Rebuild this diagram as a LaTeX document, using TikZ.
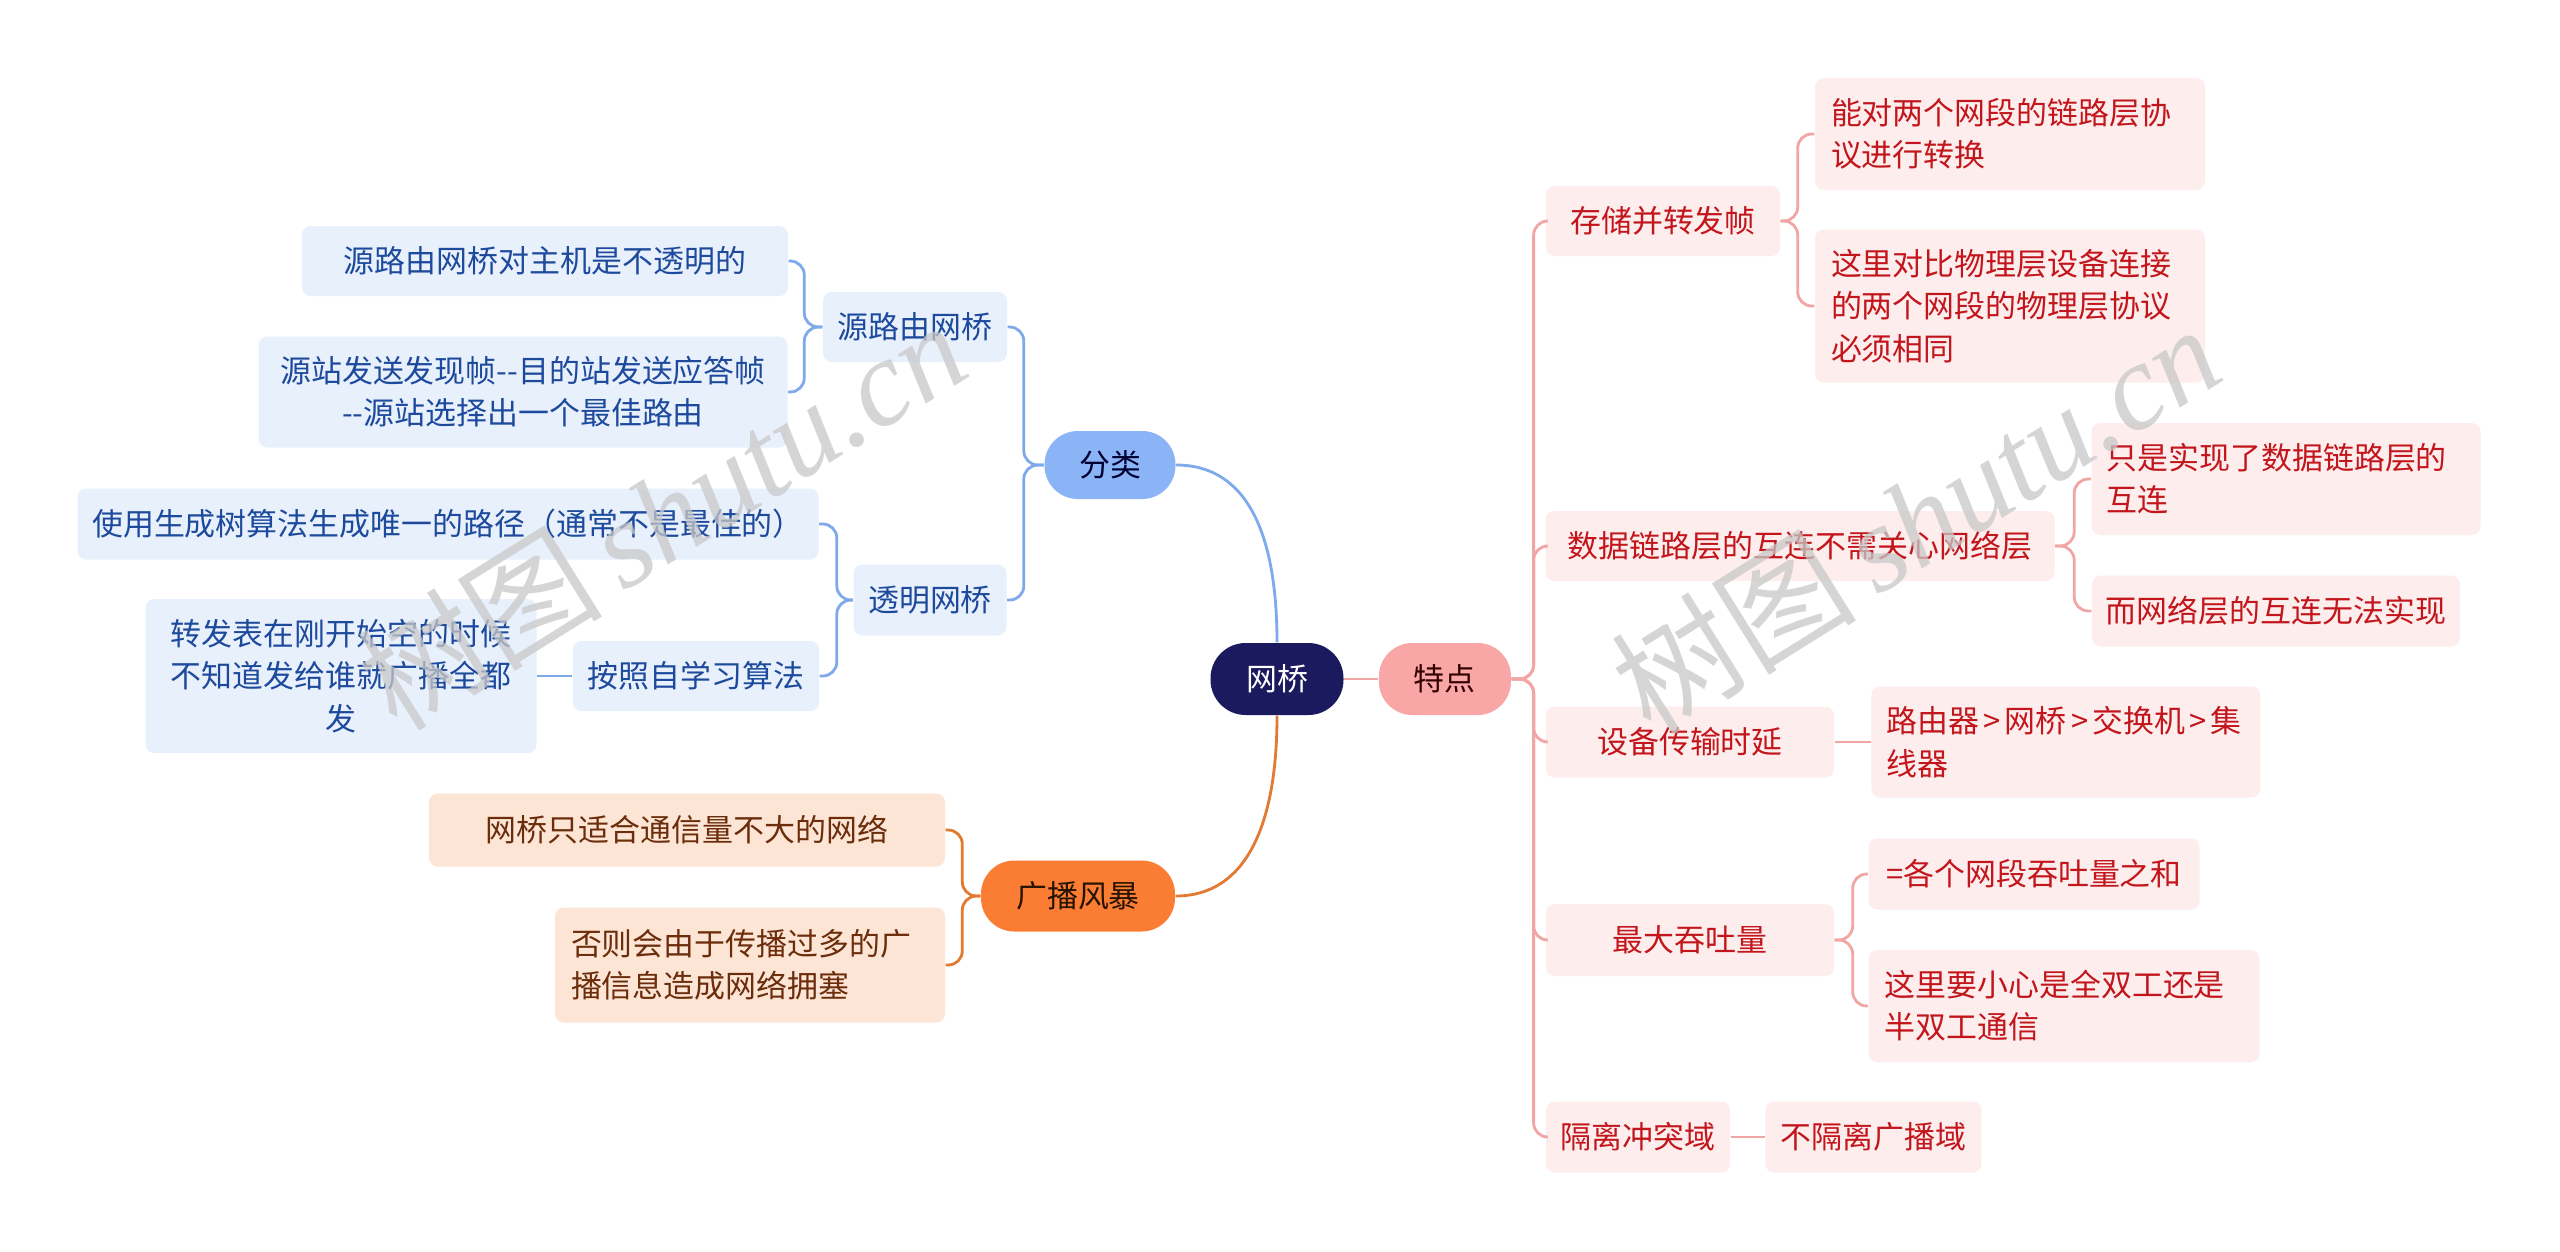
\documentclass[tikz,border=0pt]{standalone}
\usepackage{fontspec}
\setmainfont{Noto Sans CJK SC}
\newfontfamily\wmlatin{Liberation Serif}
\usetikzlibrary{positioning}
\definecolor{rootBg}{HTML}{1B1A5E}
\definecolor{redMain}{HTML}{F8A7A6}
\definecolor{redLeaf}{HTML}{FDEDED}
\definecolor{redText}{HTML}{C3161C}
\definecolor{redLine}{HTML}{F2A5A5}
\definecolor{blueMain}{HTML}{8BB4F7}
\definecolor{blueLeaf}{HTML}{E8F0FC}
\definecolor{blueText}{HTML}{1D4A9C}
\definecolor{blueLine}{HTML}{7EA9EA}
\definecolor{orangeMain}{HTML}{FB7D33}
\definecolor{orangeLeaf}{HTML}{FDE5D6}
\definecolor{orangeText}{HTML}{6B2D0B}
\definecolor{orangeLine}{HTML}{E27A32}
\definecolor{markGray}{HTML}{C8C8C8}
\tikzset{
  wh/.style 2 args={minimum width=#1*0.01cm, minimum height=#2*0.01cm},
  tw/.style={text width=#1*0.01cm},
  topic/.style={inner sep=0pt, font=\fontsize{8.8pt}{12pt}\selectfont, align=center},
  rootnode/.style={topic, fill=rootBg, text=white, rounded corners=10pt},
  mainnode/.style={topic, rounded corners=9.5pt},
  leaf/.style={topic, rounded corners=2.5pt},
  redleaf/.style={leaf, fill=redLeaf, text=redText},
  blueleaf/.style={leaf, fill=blueLeaf, text=blueText},
  orangeleaf/.style={leaf, fill=orangeLeaf, text=orangeText},
  link/.style={line width=0.8pt, rounded corners=4pt},
  redlink/.style={link, draw=redLine},
  bluelink/.style={link, draw=blueLine},
  orangelink/.style={link, draw=orangeLine},
  watermark/.style={text=markGray, text opacity=0.75, rotate=32,
    font=\fontsize{35pt}{35pt}\selectfont},
}
\newcommand{\gtsep}{\kern1.2pt>\kern1.2pt}
\begin{document}
\begin{tikzpicture}[x=0.01cm, y=-0.01cm]
  \fill[white] (0,0) rectangle (2560,1251);
  \useasboundingbox (0,0) rectangle (2560,1251);

  % === Center ===
  \node[rootnode, wh={133}{72}] (wq) at (1277,679) {网桥};
  \node[mainnode, fill=redMain, text=black!80!red, wh={132}{72}, right=0.34cm of wq] (td) {特点};
  \node[mainnode, fill=blueMain, text=black!80!blue, wh={131}{68}] (fl) at (1110,465) {分类};
  \node[mainnode, fill=orangeMain, text=black!85!orange, wh={194}{71}] (gb) at (1078,896) {广播风暴};

  % === Right: features ===
  \node[redleaf, wh={234}{70}] (r1) at (1663,221) {存储并转发帧};
  \node[redleaf, wh={390}{112}, tw=358, align=left] (r11) at (2010,134) {能对两个网段的链路层协\\议进行转换};
  \node[redleaf, wh={390}{153}, tw=358, align=left] (r12) at (2010,306) {这里对比物理层设备连接\\的两个网段的物理层协议\\必须相同};
  \node[redleaf, wh={509}{70}] (r2) at (1800,546) {数据链路层的互连不需关心网络层};
  \node[redleaf, wh={389}{112}, tw=359, align=left] (r21) at (2286,479) {只是实现了数据链路层的\\互连};
  \node[redleaf, wh={368}{71}] (r22) at (2276,611) {而网络层的互连无法实现};
  \node[redleaf, wh={288}{71}] (r3) at (1690,742) {设备传输时延};
  \node[redleaf, wh={389}{111}, tw=359, align=left, right=0.36cm of r3] (r31) {路由器\gtsep 网桥\gtsep 交换机\gtsep 集\\线器};
  \node[redleaf, wh={288}{72}] (r4) at (1690,940) {最大吞吐量};
  \node[redleaf, wh={331}{71}] (r41) at (2034,874) {=各个网段吞吐量之和};
  \node[redleaf, wh={391}{112}, tw=359, align=left] (r42) at (2064,1006) {这里要小心是全双工还是\\半双工通信};
  \node[redleaf, wh={184}{71}] (r5) at (1638,1137) {隔离冲突域};
  \node[redleaf, wh={216}{71}, right=0.34cm of r5] (r51) {不隔离广播域};

  % === Left top: kinds ===
  \node[blueleaf, wh={184}{70}] (b1) at (915,327) {源路由网桥};
  \node[blueleaf, wh={486}{70}] (b11) at (545,261) {源路由网桥对主机是不透明的};
  \node[blueleaf, wh={529}{111}] (b12) at (523,392) {源站发送发现帧-{}-目的站发送应答帧\\-{}-源站选择出一个最佳路由};
  \node[blueleaf, wh={153}{71}] (b2) at (930,600) {透明网桥};
  \node[blueleaf, wh={741}{71}] (b21) at (448,524) {使用生成树算法生成唯一的路径（通常不是最佳的）};
  \node[blueleaf, wh={246}{70}] (b22) at (696,676) {按照自学习算法};
  \node[blueleaf, wh={391}{154}, left=0.35cm of b22] (b221) {转发表在刚开始空的时候\\不知道发给谁就广播全都\\发};

  % === Left bottom: broadcast storm ===
  \node[orangeleaf, wh={516}{73}] (o1) at (687,830) {网桥只适合通信量不大的网络};
  \node[orangeleaf, wh={390}{115}, tw=358, align=left] (o2) at (750,965) {否则会由于传播过多的广\\播信息造成网络拥塞};

  % Links from the root
  \draw[redlink] (wq) -- (td);
  \draw[bluelink] (wq.north) .. controls +(0,-110) and +(70,0) .. (fl.east);
  \draw[orangelink] (wq.south) .. controls +(0,110) and +(70,0) .. (gb.east);

  % Links: right side
  \foreach \c in {r1,r2,r3,r4,r5}
    \draw[redlink] (td.east) -- ++(22,0) |- (\c.west);
  \foreach \c in {r11,r12}
    \draw[redlink] (r1.east) -- ++(17,0) |- (\c.west);
  \foreach \c in {r21,r22}
    \draw[redlink] (r2.east) -- ++(19,0) |- (\c.west);
  \foreach \c in {r41,r42}
    \draw[redlink] (r4.east) -- ++(18,0) |- (\c.west);
  \draw[redlink] (r3) -- (r31);
  \draw[redlink] (r5) -- (r51);

  % Links: left side
  \foreach \c in {b1,b2}
    \draw[bluelink] (fl.west) -- ++(-20,0) |- (\c.east);
  \foreach \c in {b11,b12}
    \draw[bluelink] (b1.west) -- ++(-18,0) |- (\c.east);
  \foreach \c in {b21,b22}
    \draw[bluelink] (b2.west) -- ++(-16,0) |- (\c.east);
  \draw[bluelink] (b22) -- (b221);
  \foreach \c in {o1,o2}
    \draw[orangelink] (gb.west) -- ++(-18,0) |- (\c.east);

  % Watermarks
  \node[watermark] (wm1) at (661,514) {树图\,{\wmlatin\itshape shutu.cn}};
  \node[watermark] (wm2) at (1915,518) {树图\,{\wmlatin\itshape shutu.cn}};
\end{tikzpicture}
\end{document}
